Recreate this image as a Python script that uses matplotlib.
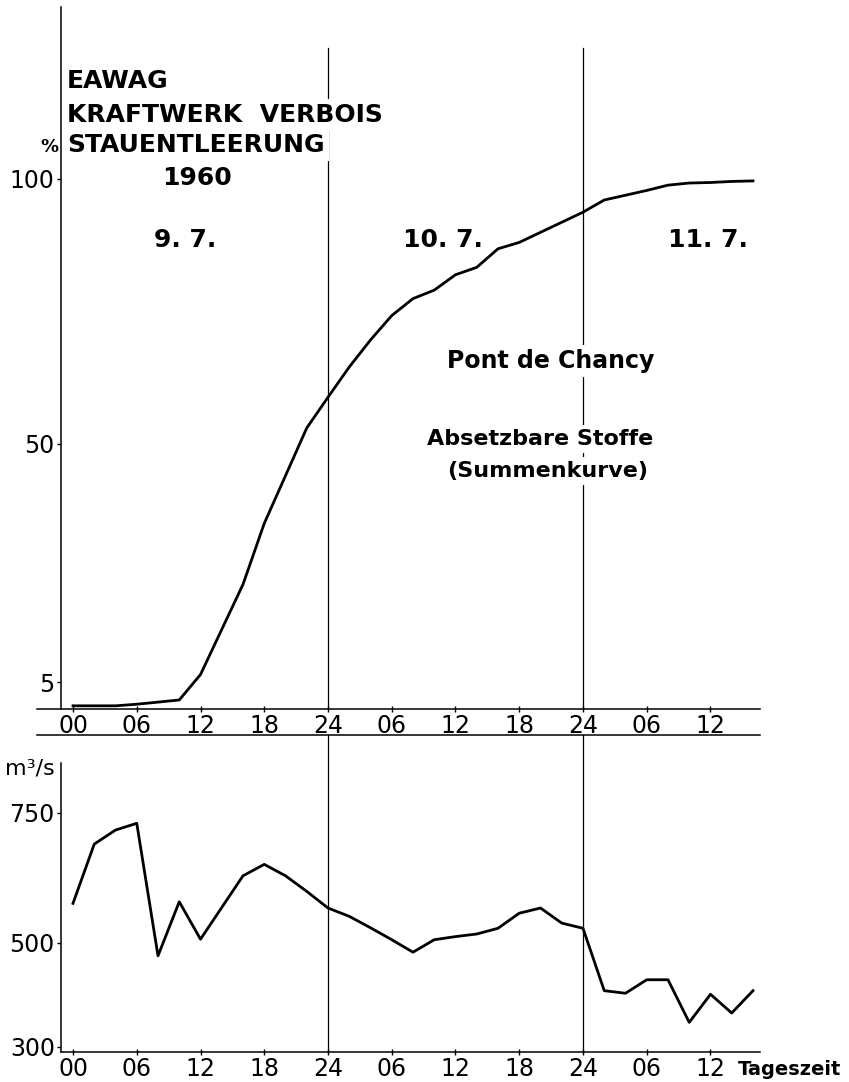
import matplotlib
matplotlib.use("Agg")
import matplotlib.pyplot as plt
from matplotlib.lines import Line2D
from matplotlib.transforms import blended_transform_factory

# Summenkurve absetzbare Stoffe (%), Stunden ab 9.7. 00 Uhr
stunden_summe = [0, 2, 4, 6, 8, 10, 12, 14, 16, 18, 20, 22, 24, 26, 28, 30, 32,
                 34, 36, 38, 40, 42, 44, 46, 48, 50, 52, 54, 56, 58, 60, 62, 64]
summe = [0.6, 0.6, 0.6, 0.9, 1.3, 1.7, 6.5, 15.0, 23.5, 35.0, 44.0, 53.0, 58.8,
         64.5, 69.6, 74.2, 77.4, 79.0, 81.9, 83.3, 86.8, 88.0, 89.9, 91.8, 93.7,
         96.0, 96.9, 97.8, 98.8, 99.2, 99.3, 99.5, 99.6]

# Abfluss m3/s
stunden_abfluss = [0, 2, 4, 6, 8, 10, 12, 16, 18, 20, 22, 24, 26, 28, 30, 32, 34,
                   36, 38, 40, 42, 44, 46, 48, 50, 52, 54, 56, 58, 60, 62, 64]
abfluss = [576, 690, 717, 730, 475, 579, 507, 629, 651, 629, 599, 567, 551, 529,
           506, 482, 506, 512, 517, 528, 557, 567, 538, 528, 408, 403, 429, 429,
           347, 401, 365, 408]

tick_stunden = [0, 6, 12, 18, 24, 30, 36, 42, 48, 54, 60]
tick_labels = ["00", "06", "12", "18", "24", "06", "12", "18", "24", "06", "12"]
tage = ["9. 7.", "10. 7.", "11. 7."]
tag_grenzen = [24, 48]

W, H = 849, 1082


def fx(x):
    return x / W


def fy(y):
    return 1 - y / H


fig = plt.figure(figsize=(W / 100, H / 100), dpi=100)
ax1 = fig.add_axes([fx(61), fy(709), fx(760) - fx(61), fy(7) - fy(709)])
ax2 = fig.add_axes([fx(61), fy(1052), fx(760) - fx(61), fy(763) - fy(1052)])

ax1.plot(stunden_summe, summe, color="black", lw=2.0, solid_joinstyle="round")
ax2.plot(stunden_abfluss, abfluss, color="black", lw=2.0, solid_joinstyle="round")

# Tagesgrenzen quer durch beide Diagramme
trans = blended_transform_factory(ax2.transData, fig.transFigure)
for h in tag_grenzen:
    ax2.plot([h, h], [fy(48), fy(709)], transform=trans, clip_on=False,
             color="black", lw=0.9)
    ax2.plot([h, h], [fy(735), fy(1052)], transform=trans, clip_on=False,
             color="black", lw=0.9)

for ax in (ax1, ax2):
    ax.set_xlim(-1.13, 64.66)
    ax.spines["top"].set_visible(False)
    ax.spines["right"].set_visible(False)
    ax.spines["left"].set_linewidth(1.1)
    ax.spines["bottom"].set_linewidth(1.1)
    ax.set_xticks(tick_stunden)
    ax.set_xticklabels(tick_labels, fontsize=17)
    ax.tick_params(axis="x", direction="inout", length=5, width=1, pad=1)
    ax.tick_params(axis="y", direction="out", length=3, width=1, pad=1.5,
                   labelsize=17)
    ax.patch.set_alpha(0)

ax1.set_ylim(0, 132.4)
ax1.set_yticks([5, 50, 100])
ax1.spines["bottom"].set_visible(False)
ax2.set_ylim(290, 846)
ax2.set_yticks([300, 500, 750])

for y in (709, 735):
    fig.add_artist(Line2D([fx(37), fx(760)], [fy(y), fy(y)],
                          transform=fig.transFigure, color="black", lw=1.1))

weiss = dict(facecolor="white", edgecolor="none", pad=3)
fig.text(fx(67), fy(88), "EAWAG", fontsize=18, fontweight="bold")
fig.text(fx(67), fy(122), "KRAFTWERK  VERBOIS", fontsize=18, fontweight="bold",
         bbox=weiss)
fig.text(fx(67), fy(152), "STAUENTLEERUNG", fontsize=18, fontweight="bold",
         bbox=weiss)
fig.text(fx(197), fy(185), "1960", fontsize=18, fontweight="bold", ha="center")
fig.text(fx(40), fy(152), "%", fontsize=13, fontweight="bold")

for x, t in zip([185, 443, 708], tage):
    fig.text(fx(x), fy(247), t, fontsize=18, fontweight="bold", ha="center")

fig.text(fx(551), fy(368), "Pont de Chancy", fontsize=17, fontweight="bold",
         ha="center", bbox=weiss)
fig.text(fx(540), fy(445), "Absetzbare Stoffe", fontsize=16, fontweight="bold",
         ha="center", bbox=weiss)
fig.text(fx(548), fy(477), "(Summenkurve)", fontsize=16, fontweight="bold",
         ha="center", bbox=weiss)

fig.text(fx(5), fy(775), "m³/s", fontsize=16)
fig.text(fx(738), fy(1075), "Tageszeit", fontsize=14, fontweight="bold")

fig.savefig("out.png", dpi=100)
